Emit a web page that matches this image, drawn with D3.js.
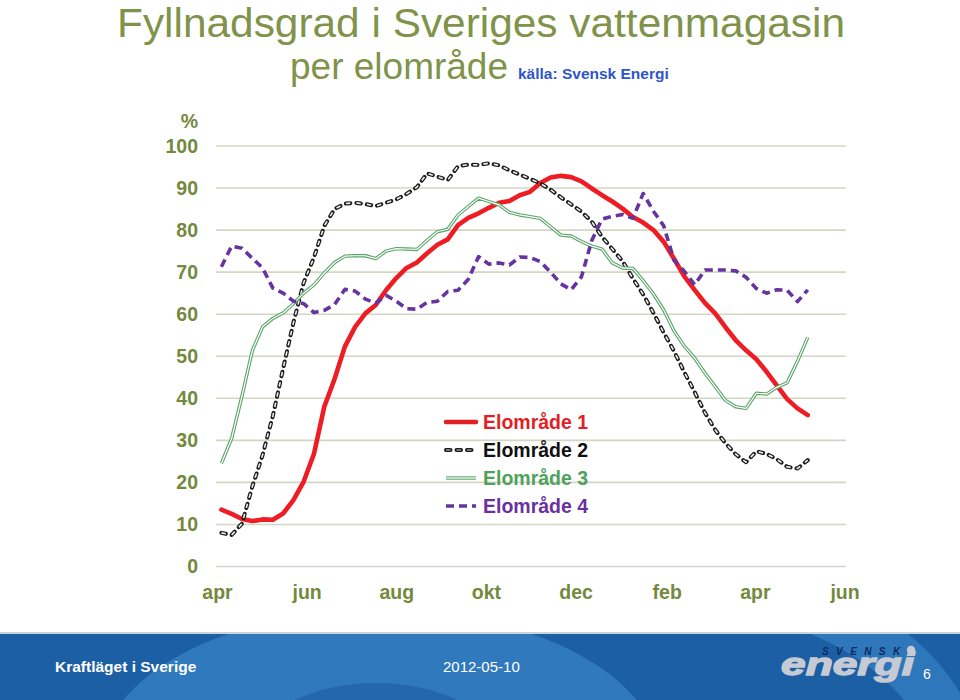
<!DOCTYPE html>
<html>
<head>
<meta charset="utf-8">
<script src="https://cdn.jsdelivr.net/npm/d3@7/dist/d3.min.js"></script>
<style>
  html, body { margin: 0; padding: 0; background: #fff; }
  svg { display: block; }
</style>
</head>
<body>
<svg id="chart" width="960" height="700"></svg>
<script>
// ---------------- DATA ----------------
const weekDates = [
  "2011-04-04","2011-04-11","2011-04-18","2011-04-25","2011-05-02","2011-05-09","2011-05-16","2011-05-23","2011-05-30",
  "2011-06-06","2011-06-13","2011-06-20","2011-06-27","2011-07-04","2011-07-11","2011-07-18","2011-07-25",
  "2011-08-01","2011-08-08","2011-08-15","2011-08-22","2011-08-29","2011-09-05","2011-09-12","2011-09-19","2011-09-26",
  "2011-10-03","2011-10-10","2011-10-17","2011-10-24","2011-10-31","2011-11-07","2011-11-14","2011-11-21","2011-11-28",
  "2011-12-05","2011-12-12","2011-12-19","2011-12-26","2012-01-02","2012-01-09","2012-01-16","2012-01-23","2012-01-30",
  "2012-02-06","2012-02-13","2012-02-20","2012-02-27","2012-03-05","2012-03-12","2012-03-19","2012-03-26",
  "2012-04-02","2012-04-09","2012-04-16","2012-04-23","2012-04-30","2012-05-07"
];

const elomrade1 = [13.5,12.5,11.3,10.8,11.2,11.1,12.6,15.8,20.2,26.8,38.0,44.6,52.3,57.0,60.2,62.2,65.7,68.6,71.0,72.3,
  74.5,76.5,77.8,81.2,82.9,84.0,85.3,86.5,86.9,88.3,89.1,91.2,92.5,92.9,92.6,91.6,89.9,88.3,86.8,85.1,
  83.1,81.8,80.0,77.2,73.2,69.0,65.8,62.7,60.2,56.9,53.8,51.4,49.3,46.3,43.0,39.8,37.6,36.0];

const elomrade2 = [8.0,7.5,10.2,19.0,26.5,35.8,47.1,58.0,67.5,73.5,81.0,85.0,86.3,86.5,86.2,85.7,86.5,87.3,88.6,90.2,
  93.5,92.7,91.9,95.2,95.6,95.5,95.9,95.4,94.2,93.2,92.2,91.1,89.6,87.8,86.1,84.4,82.0,78.4,75.5,72.6,
  68.5,64.7,60.3,55.6,51.2,46.2,41.5,36.6,32.5,29.3,26.7,24.8,27.4,26.8,25.5,23.7,23.3,25.3];

const elomrade3 = [24.5,30.5,40.5,51.3,57.0,59.0,60.3,62.5,65.0,67.0,69.8,72.3,73.8,73.9,73.9,73.2,75.0,75.6,75.5,75.4,
  77.6,79.6,80.2,83.6,85.6,87.6,86.8,86.0,84.2,83.6,83.2,82.8,80.8,78.8,78.6,77.3,76.2,75.5,72.2,71.0,
  70.9,68.0,64.8,61.0,56.0,52.4,49.6,46.0,42.8,39.5,38.0,37.6,41.2,41.0,42.6,43.7,48.8,54.5];

const elomrade4 = [71.3,76.2,75.7,73.3,71.0,66.2,65.0,63.1,62.5,60.4,60.9,62.3,65.9,65.5,63.6,62.6,64.5,63.1,61.3,61.2,
  62.8,63.1,65.4,65.7,68.3,73.7,71.9,72.2,71.7,73.6,73.5,72.5,70.0,67.2,65.8,68.9,77.5,82.6,83.3,83.7,
  82.8,88.7,84.5,81.0,72.8,70.2,67.0,70.5,70.5,70.5,70.3,68.8,66.1,65.0,65.8,65.7,63.0,65.8];

const seriesNames = ["Elområde 1","Elområde 2","Elområde 3","Elområde 4"];
const yTickValues = [0,10,20,30,40,50,60,70,80,90,100];
const xTickDates  = ["2011-04-01","2011-06-01","2011-08-01","2011-10-01","2011-12-01","2012-02-01","2012-04-01","2012-06-01"];
const xTickLabels = ["apr","jun","aug","okt","dec","feb","apr","jun"];

// ---------------- STYLES ----------------
const olive = "#74893d";
const styles = [
  { kind: "solid",   color: "#ee1d23", legendColor: "#e31e24" },
  { kind: "capsule", color: "#1a1a1a", legendColor: "#111111" },
  { kind: "double",  color: "#5aa468", legendColor: "#4fa25c" },
  { kind: "dashed",  color: "#6634a0", legendColor: "#6a30a0" }
];

const parse = d3.timeParse("%Y-%m-%d");
const dates = weekDates.map(parse);
const allSeries = [elomrade1, elomrade2, elomrade3, elomrade4];

const svg = d3.select("#chart");
svg.append("rect").attr("width",960).attr("height",700).attr("fill","#fff");

const x = d3.scaleTime()
  .domain([parse(xTickDates[0]), parse(xTickDates[xTickDates.length-1])])
  .range([217, 844.5]);
const y = d3.scaleLinear().domain([0,100]).range([566.5,146]);
const gridX0 = 216, gridX1 = 846;
const FONT = "Liberation Sans, Arial, sans-serif";

// ---------------- TITLE ----------------
svg.append("text").attr("x",117).attr("y",36.5)
  .attr("font-family",FONT).attr("font-size",40)
  .attr("textLength",728).attr("lengthAdjust","spacingAndGlyphs")
  .attr("fill","#7f934a").text("Fyllnadsgrad i Sveriges vattenmagasin");
svg.append("text").attr("x",290).attr("y",79)
  .attr("font-family",FONT).attr("font-size",37)
  .attr("fill","#7f934a").text("per elområde");
svg.append("text").attr("x",518).attr("y",79)
  .attr("font-family",FONT).attr("font-size",15.5).attr("font-weight","bold")
  .attr("fill","#2f55c8").text("källa: Svensk Energi");

// ---------------- GRID ----------------
svg.append("g").selectAll("line").data(yTickValues).join("line")
  .attr("x1",gridX0).attr("x2",gridX1)
  .attr("y1",d=>y(d)).attr("y2",d=>y(d))
  .attr("stroke","#d3d6c3").attr("stroke-width",1.6);

// ---------------- AXES ----------------
const yAxis = d3.axisLeft(y).tickValues(yTickValues).tickSize(0).tickPadding(18);
const gy = svg.append("g").attr("transform",`translate(${gridX0},0)`).call(yAxis);
gy.select(".domain").remove();
gy.selectAll("text").attr("font-family",FONT)
  .attr("font-size",19.5).attr("font-weight","bold").attr("fill",olive);

svg.append("text").attr("x",198).attr("y",128).attr("text-anchor","end")
  .attr("font-family",FONT).attr("font-size",19.5)
  .attr("font-weight","bold").attr("fill",olive).text("%");

const xAxis = d3.axisBottom(x).tickValues(xTickDates.map(parse)).tickSize(0).tickPadding(19)
  .tickFormat((d,i)=>xTickLabels[i]);
const gx = svg.append("g").attr("transform",`translate(0,${y(0)})`).call(xAxis);
gx.select(".domain").remove();
gx.selectAll("text").attr("font-family",FONT)
  .attr("font-size",19.5).attr("font-weight","bold").attr("fill",olive);

// ---------------- LINES ----------------
function drawStyled(g, d, st, isLegend) {
  if (st.kind === "solid") {
    g.append("path").attr("d",d).attr("fill","none").attr("stroke",isLegend?st.legendColor:st.color)
      .attr("stroke-width",4.6).attr("stroke-linejoin","round").attr("stroke-linecap","round");
  } else if (st.kind === "capsule") {
    g.append("path").attr("d",d).attr("fill","none").attr("stroke",st.color)
      .attr("stroke-width",4).attr("stroke-dasharray","4.5,6").attr("stroke-linecap","round")
      .attr("stroke-linejoin","round");
    g.append("path").attr("d",d).attr("fill","none").attr("stroke",isLegend?"#9a9a9a":"#eeeeee")
      .attr("stroke-width",1.6).attr("stroke-dasharray","4.5,6").attr("stroke-linecap","butt")
      .attr("stroke-linejoin","round");
  } else if (st.kind === "double") {
    g.append("path").attr("d",d).attr("fill","none").attr("stroke",st.color)
      .attr("stroke-width",3.4).attr("stroke-linejoin","round");
    g.append("path").attr("d",d).attr("fill","none").attr("stroke","#ffffff")
      .attr("stroke-width",1.2).attr("stroke-linejoin","round");
  } else {
    g.append("path").attr("d",d).attr("fill","none").attr("stroke",st.color)
      .attr("stroke-width",3.6).attr("stroke-dasharray","8,5").attr("stroke-linejoin","round");
  }
}

const line = d3.line().x((v,i)=>x(dates[i])).y(v=>y(v));
const gLines = svg.append("g");
allSeries.forEach((s,k)=>{
  drawStyled(gLines.append("g"), line(s), styles[k], false);
});

// ---------------- LEGEND ----------------
const legendRows = [422, 450, 478, 506];
const gLeg = svg.append("g");
seriesNames.forEach((name,k)=>{
  const yy = legendRows[k];
  drawStyled(gLeg.append("g"), `M446,${yy}L476,${yy}`, styles[k], true);
  gLeg.append("text").attr("x",483).attr("y",yy+7)
    .attr("font-family",FONT).attr("font-size",19.5)
    .attr("font-weight","bold").attr("fill",styles[k].legendColor).text(name);
});

// ---------------- FOOTER ----------------
const footer = svg.append("g");
const clip = svg.append("defs").append("clipPath").attr("id","fclip");
clip.append("rect").attr("x",0).attr("y",634).attr("width",960).attr("height",66);
footer.append("rect").attr("x",0).attr("y",634).attr("width",960).attr("height",66).attr("fill","#1d5fa4");
const fdec = footer.append("g").attr("clip-path","url(#fclip)");
fdec.append("ellipse").attr("cx",660).attr("cy",780).attr("rx",300).attr("ry",200)
  .attr("fill","none").attr("stroke","#2f77bb").attr("stroke-width",50);
fdec.append("ellipse").attr("cx",380).attr("cy",760).attr("rx",280).attr("ry",150).attr("fill","#3079bd");
fdec.append("ellipse").attr("cx",376).attr("cy",745).attr("rx",118).attr("ry",62).attr("fill","#2468ab");
footer.append("rect").attr("x",0).attr("y",632).attr("width",960).attr("height",2).attr("fill","#c9d3dc");

footer.append("text").attr("x",55).attr("y",672)
  .attr("font-family",FONT).attr("font-size",15.5).attr("font-weight","bold")
  .attr("fill","#ffffff").text("Kraftläget i Sverige");
footer.append("text").attr("x",443).attr("y",672)
  .attr("font-family",FONT).attr("font-size",15)
  .attr("fill","#ffffff").text("2012-05-10");
footer.append("text").attr("x",822).attr("y",655)
  .attr("font-family",FONT).attr("font-size",10).attr("font-weight","bold").attr("font-style","italic")
  .attr("letter-spacing",7.4).attr("fill","#0b2a5e").text("SVENSK");
footer.append("circle").attr("cx",911).attr("cy",650).attr("r",4.2).attr("fill","#c4cad3");
footer.append("text").attr("x",781).attr("y",675)
  .attr("font-family",FONT).attr("font-size",32).attr("font-weight","bold")
  .attr("font-style","italic").attr("textLength",133).attr("lengthAdjust","spacingAndGlyphs")
  .attr("fill","#c6cbd3").attr("stroke","#c6cbd3").attr("stroke-width",1.4)
  .text("energi");
footer.append("text").attr("x",923).attr("y",679)
  .attr("font-family",FONT).attr("font-size",14)
  .attr("fill","#ffffff").text("6");
</script>
</body>
</html>
